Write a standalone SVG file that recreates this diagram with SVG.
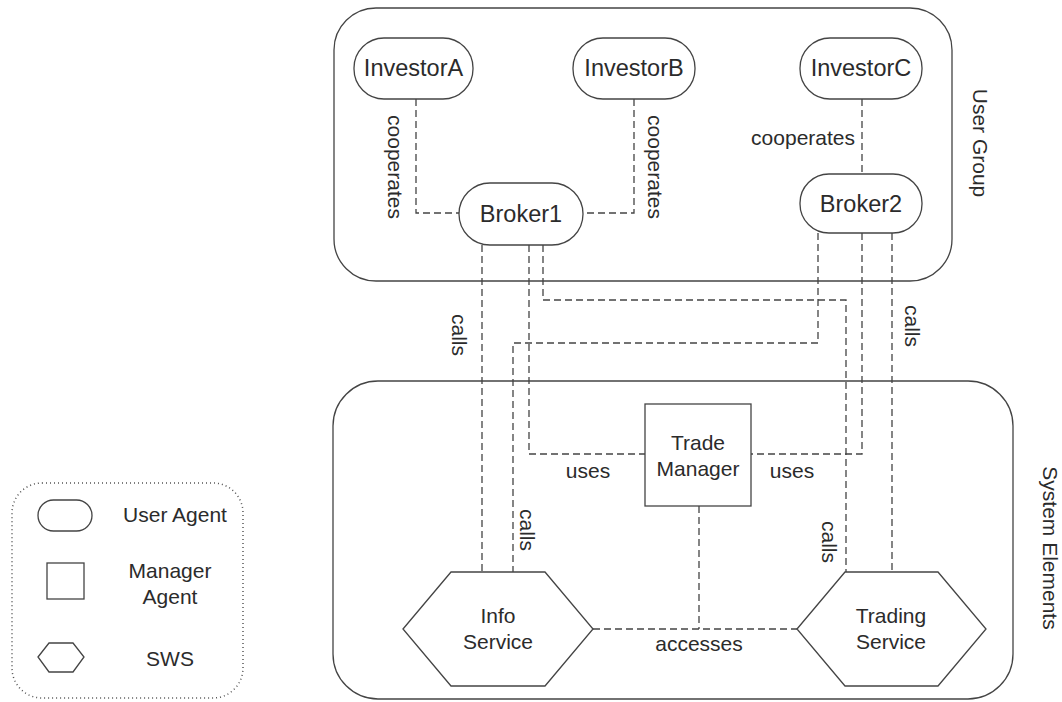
<svg xmlns="http://www.w3.org/2000/svg" width="1062" height="702" viewBox="0 0 1062 702">
<style>
text{font-family:"Liberation Sans",Arial,sans-serif;font-size:21px;fill:#2b2b2b;text-anchor:middle;dominant-baseline:central}
text.big{font-size:23.5px}
.shape{fill:#fff;stroke:#444;stroke-width:1.3}
.group{fill:none;stroke:#444;stroke-width:1.3}
.conn{fill:none;stroke:#444;stroke-width:1.3;stroke-dasharray:7,4}
.legend{fill:none;stroke:#555;stroke-width:1.5;stroke-dasharray:1,3}
</style>
<rect width="1062" height="702" fill="#fff"/>
<g id="user-group">
<rect class="group" x="334" y="8" width="618" height="273" rx="42"/>
<text transform="translate(980,143) rotate(90)">User Group</text>
</g>
<g id="system-elements">
<rect class="group" x="333" y="381" width="680" height="318" rx="45"/>
<text transform="translate(1050,548) rotate(90)">System Elements</text>
</g>
<g id="connectors">
<path class="conn" d="M416,99 V213 H459"/>
<path class="conn" d="M634,99 V213 H583"/>
<path class="conn" d="M862,99 V174"/>
<path class="conn" d="M482,245 V572"/>
<path class="conn" d="M529,245 V454 H645"/>
<path class="conn" d="M543,245 V300 H846 V572"/>
<path class="conn" d="M818,233 V343 H513 V572"/>
<path class="conn" d="M862,233 V454 H751"/>
<path class="conn" d="M892,233 V572"/>
<path class="conn" d="M699,506 V629"/>
<path class="conn" d="M593,629 H797"/>
<text transform="translate(395,167) rotate(90)">cooperates</text>
<text transform="translate(655,167) rotate(90)">cooperates</text>
<text x="855" y="137" style="text-anchor:end">cooperates</text>
<text transform="translate(459,335) rotate(90)">calls</text>
<text transform="translate(527,530) rotate(90)">calls</text>
<text transform="translate(829,542) rotate(90)">calls</text>
<text transform="translate(912,326) rotate(90)">calls</text>
<text x="588" y="470">uses</text>
<text x="792" y="470">uses</text>
<text x="699" y="643">accesses</text>
</g>
<g id="investorA"><rect class="shape" x="354" y="38" width="119" height="61" rx="30"/><text class="big" x="413.5" y="68">InvestorA</text></g>
<g id="investorB"><rect class="shape" x="573" y="38" width="122" height="61" rx="30"/><text class="big" x="634" y="68">InvestorB</text></g>
<g id="investorC"><rect class="shape" x="800" y="38" width="122" height="61" rx="30"/><text class="big" x="861" y="68">InvestorC</text></g>
<g id="broker1"><rect class="shape" x="459" y="183" width="124" height="62" rx="31"/><text class="big" x="521" y="214">Broker1</text></g>
<g id="broker2"><rect class="shape" x="800" y="174" width="122" height="59" rx="29"/><text class="big" x="861" y="203.5">Broker2</text></g>
<g id="trade-manager"><rect class="shape" x="645" y="404" width="106" height="102"/><text x="698" y="442">Trade</text><text x="698" y="468">Manager</text></g>
<g id="info-service"><polygon class="shape" points="403,629 451,572 545,572 593,629 545,686 451,686"/><text x="498" y="615">Info</text><text x="498" y="641">Service</text></g>
<g id="trading-service"><polygon class="shape" points="797,629 845,572 938,572 986,629 938,686 845,686"/><text x="891" y="615">Trading</text><text x="891" y="641">Service</text></g>
<g id="legend">
<rect class="legend" x="12" y="483" width="231" height="215" rx="30"/>
<rect class="shape" x="38" y="500" width="54" height="31" rx="15.5"/>
<text x="175" y="514">User Agent</text>
<rect class="shape" x="47" y="563" width="37" height="36"/>
<text x="170" y="570">Manager</text>
<text x="170" y="596">Agent</text>
<polygon class="shape" points="38,657 49,643 73,643 84,657 73,672 49,672"/>
<text x="170" y="658">SWS</text>
</g>
</svg>
